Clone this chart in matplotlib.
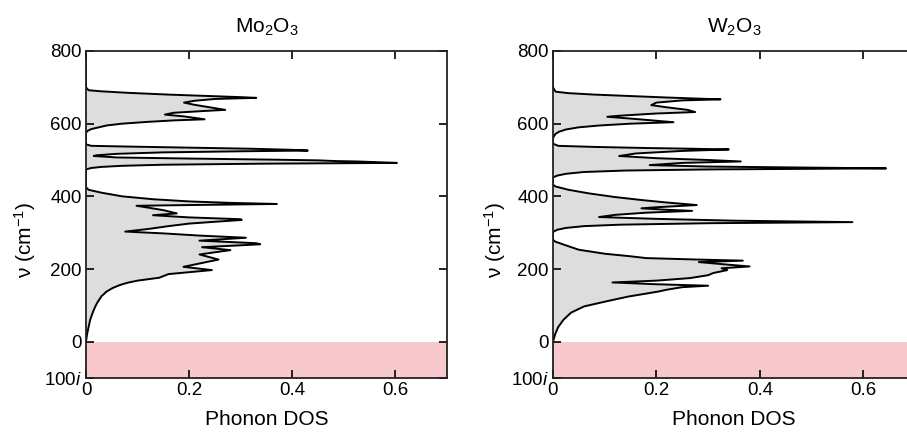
import matplotlib
matplotlib.use("Agg")
import matplotlib.pyplot as plt

plt.rcParams['font.family'] = ['Liberation Sans', 'DejaVu Sans']
plt.rcParams['mathtext.fontset'] = 'custom'
plt.rcParams['mathtext.rm'] = 'Liberation Sans'
plt.rcParams['mathtext.it'] = 'Liberation Sans:italic'
plt.rcParams['mathtext.default'] = 'regular'

titles = ["Mo$_2$O$_3$", "W$_2$O$_3$"]
xticks = [0, 0.2, 0.4, 0.6]
xticklabels = ["0", "0.2", "0.4", "0.6"]
yticks = [-100, 0, 200, 400, 600, 800]
yticklabels = ["100$\\mathit{i}$", "0", "200", "400", "600", "800"]

mo_freq = [800, 700, 692, 689, 685, 680, 676, 673, 671, 668, 663, 658, 652, 645, 638, 635, 630, 625, 620, 612,
           609, 605, 600, 595, 590, 585, 580, 575, 543, 539, 537, 534, 531, 528, 526, 524, 521, 517, 513,
           511, 507, 504, 501, 499, 497, 496, 492, 490, 487, 484, 481, 478, 474, 425, 418, 410, 400, 392,
           386, 382, 379, 376, 374, 369, 362, 353, 348, 342, 337, 335, 330, 325, 318, 310, 303, 298, 292,
           286, 278, 271, 268, 260, 252, 240, 226, 206, 197, 186, 176, 168, 162, 156, 148, 138, 125, 110,
           97, 80, 60, 40, 20, 5, 0]
mo_dos = [0.0, 0.0, 0.005, 0.03, 0.08, 0.16, 0.24, 0.30, 0.33, 0.25, 0.21, 0.19, 0.21, 0.24, 0.27, 0.23, 0.17,
          0.153, 0.19, 0.23, 0.17, 0.12, 0.07, 0.04, 0.025, 0.01, 0.003, 0.0, 0.0, 0.01, 0.08, 0.2, 0.32,
          0.40, 0.43, 0.3, 0.15, 0.06, 0.02, 0.015, 0.06, 0.2, 0.36, 0.45, 0.485, 0.526, 0.603, 0.35, 0.15,
          0.07, 0.03, 0.01, 0.0, 0.0, 0.005, 0.03, 0.07, 0.13, 0.2, 0.28, 0.37, 0.2, 0.098, 0.12, 0.15,
          0.176, 0.13, 0.20, 0.30, 0.302, 0.25, 0.20, 0.16, 0.12, 0.076, 0.15, 0.22, 0.31, 0.22, 0.33,
          0.338, 0.225, 0.28, 0.22, 0.257, 0.189, 0.244, 0.16, 0.142, 0.10, 0.08, 0.066, 0.052, 0.04,
          0.03, 0.023, 0.018, 0.013, 0.008, 0.005, 0.002, 0.0005, 0.0]

w_freq = [800, 700, 688, 684, 680, 676, 672, 669, 667, 664, 658, 651, 645, 638, 632, 628, 622, 619, 614, 608,
          604, 600, 595, 590, 584, 578, 572, 566, 560, 545, 539, 536, 533, 531, 529, 525, 518, 511, 505,
          500, 496, 492, 486, 482, 479, 477, 474, 471, 467, 462, 457, 452, 432, 427, 418, 408, 398, 390,
          383, 376, 370, 367, 363, 360, 355, 349, 343, 338, 333, 329, 326, 322, 318, 313, 308, 302, 280,
          275, 265, 253, 242, 235, 230, 226, 223, 219, 213, 207, 202, 197, 189, 183, 175, 168, 163, 158,
          154, 150, 143, 138, 124, 110, 97, 80, 60, 40, 20, 0]
w_dos = [0.0, 0.0, 0.005, 0.03, 0.08, 0.15, 0.22, 0.28, 0.324, 0.25, 0.2, 0.19, 0.22, 0.26, 0.275, 0.2, 0.13,
         0.105, 0.15, 0.2, 0.233, 0.15, 0.09, 0.05, 0.025, 0.012, 0.005, 0.002, 0.0, 0.0, 0.01, 0.08, 0.18,
         0.27, 0.34, 0.25, 0.16, 0.128, 0.2, 0.3, 0.363, 0.25, 0.187, 0.3, 0.5, 0.644, 0.3, 0.14, 0.06,
         0.025, 0.008, 0.0, 0.0, 0.005, 0.03, 0.07, 0.12, 0.17, 0.22, 0.278, 0.2, 0.171, 0.22, 0.269, 0.18,
         0.12, 0.089, 0.2, 0.35, 0.579, 0.3, 0.13, 0.06, 0.025, 0.008, 0.0, 0.0, 0.005, 0.025, 0.05, 0.1,
         0.15, 0.18, 0.28, 0.367, 0.282, 0.33, 0.38, 0.326, 0.337, 0.31, 0.3, 0.265, 0.2, 0.115, 0.2, 0.30,
         0.25, 0.22, 0.204, 0.145, 0.10, 0.06, 0.035, 0.02, 0.01, 0.004, 0.0]

series = [(mo_freq, mo_dos), (w_freq, w_dos)]

fig = plt.figure(figsize=(9.07, 4.36), dpi=100)
W, H = 907, 436
boxes = [(86, 51, 361, 327), (553, 51, 362, 327)]
ylabel_x = [25, 495]

for i, ((fq, ds), (x0, y0, w, h)) in enumerate(zip(series, boxes)):
    ax = fig.add_axes([x0 / W, (H - y0 - h) / H, w / W, h / H])
    ax.set_xlim(0, 0.7)
    ax.set_ylim(-100, 800)
    ax.axhspan(-100, 0, color='#f8c9cc', lw=0, zorder=0)
    ax.fill_betweenx(fq, 0, ds, color='#dddddd', lw=0, zorder=1)
    ax.plot(ds, fq, color='black', lw=1.4, zorder=2, solid_joinstyle='round')
    ax.set_xticks(xticks)
    ax.set_xticklabels(xticklabels)
    ax.set_yticks(yticks)
    ax.set_yticklabels(yticklabels)
    ax.tick_params(direction='in', top=True, right=True, length=6, width=1.2,
                   labelsize=13.5, colors='black', pad=3)
    for s in ax.spines.values():
        s.set_linewidth(1.3)
        s.set_color('#222222')
    ax.set_xlabel("Phonon DOS", fontsize=15, labelpad=8)
    ax.set_title(titles[i], fontsize=15, pad=13)
    fig.text(ylabel_x[i] / W, (H - 240) / H, "ν (cm$^{-1}$)", rotation=90,
             fontsize=15, ha='center', va='center')

fig.savefig("out.png", dpi=100)
